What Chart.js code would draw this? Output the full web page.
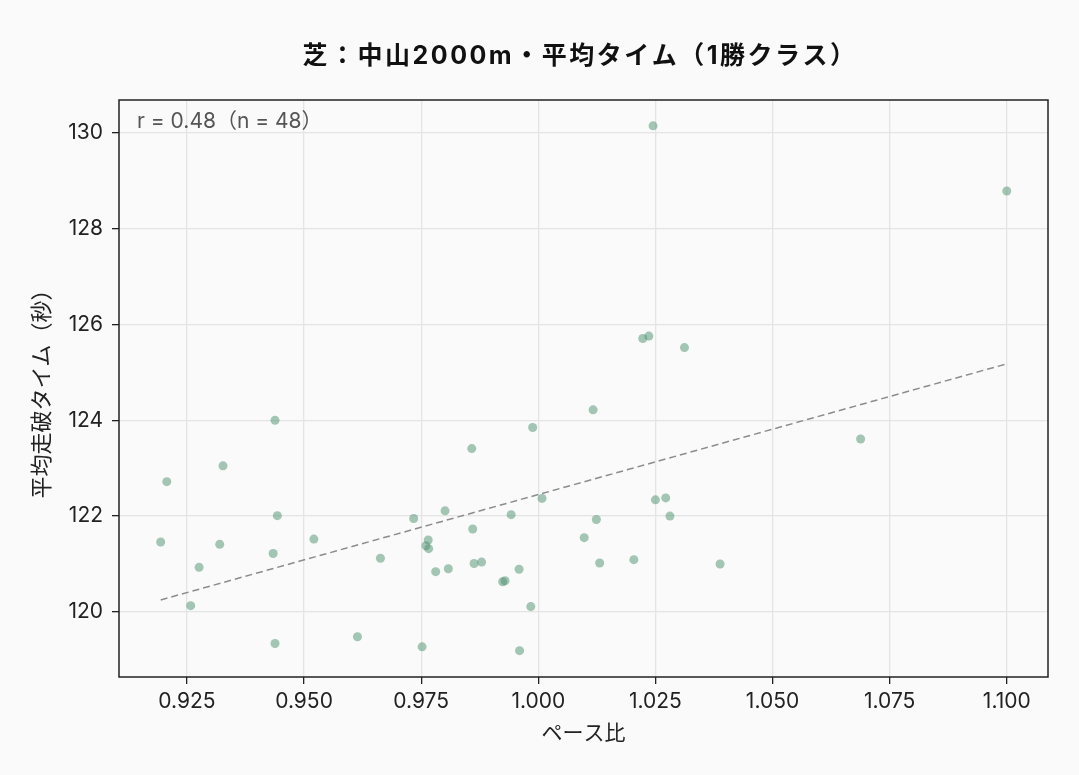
<!DOCTYPE html>
<html>
<head>
<meta charset="utf-8">
<script src="https://cdn.jsdelivr.net/npm/chart.js@4/dist/chart.umd.min.js"></script>
<style>
html,body{margin:0;padding:0;background:#fafafa;}
#wrap{width:1079px;height:775px;position:relative;}
</style>
</head>
<body>
<div id="wrap"><canvas id="c"></canvas></div>
<script>
// ---- data ----
const titleText = "芝：中山2000m・平均タイム（1勝クラス）";
const xLabel = "ペース比";
const yLabel = "平均走破タイム（秒）";
const annotationText = "r = 0.48（n = 48）";

const paceRatio = [
  0.9207, 0.9327, 0.9438, 0.9443, 0.9194, 0.9320, 0.9521, 0.9434, 0.9276, 0.9258,
  0.9438, 0.9614, 0.9988, 0.9858, 1.0008, 0.9801, 0.9734, 0.9942, 0.9860, 0.9765,
  0.9760, 0.9766, 0.9663, 0.9781, 0.9808, 0.9863, 0.9879, 0.9959, 0.9924, 0.9929,
  0.9984, 0.9752, 0.9960, 1.0223, 1.0236, 1.0312, 1.0117, 1.0250, 1.0272, 1.0281,
  1.0124, 1.0098, 1.0131, 1.0204, 1.0388, 1.0245, 1.1000, 1.0688
];
const avgTime = [
  122.72, 123.05, 124.00, 122.01, 121.46, 121.41, 121.52, 121.22, 120.93, 120.13,
  119.34, 119.48, 123.85, 123.41, 122.37, 122.11, 121.95, 122.03, 121.73, 121.50,
  121.38, 121.32, 121.12, 120.84, 120.90, 121.01, 121.04, 120.89, 120.63, 120.65,
  120.11, 119.27, 119.19, 125.71, 125.76, 125.52, 124.22, 122.34, 122.38, 122.00,
  121.93, 121.55, 121.02, 121.09, 121.00, 130.15, 128.79, 123.61
];
const trendX = [0.9194, 1.1000];
const trendY = [120.25, 125.18];

const xTicks = [0.925, 0.950, 0.975, 1.000, 1.025, 1.050, 1.075, 1.100];
const yTicks = [120, 122, 124, 126, 128, 130];
const xRange = [0.9105, 1.1088];
const yRange = [118.64, 130.69];

// ---- chart ----
const FONT = "Inter, 'Noto Sans CJK JP', sans-serif";
const points = paceRatio.map((x, i) => ({x: x, y: avgTime[i]}));
const trend = trendX.map((x, i) => ({x: x, y: trendY[i]}));

const bgPlugin = {
  id: 'bg',
  beforeDraw(chart) {
    const ctx = chart.ctx;
    ctx.save();
    ctx.fillStyle = '#fafafa';
    ctx.fillRect(0, 0, chart.width, chart.height);
    ctx.restore();
  },
  afterDraw(chart) {
    const ctx = chart.ctx;
    const a = chart.chartArea;
    ctx.save();
    ctx.strokeStyle = '#222';
    ctx.lineWidth = 1.5;
    ctx.strokeRect(a.left, a.top, a.right - a.left, a.bottom - a.top);
    ctx.fillStyle = '#111';
    ctx.font = "bold 25px " + FONT;
    ctx.textAlign = 'center';
    ctx.textBaseline = 'middle';
    try { ctx.letterSpacing = '2.5px'; } catch (e) {}
    ctx.fillText(titleText, 580, 56);
    try { ctx.letterSpacing = '0px'; } catch (e) {}
    ctx.fillStyle = '#555';
    ctx.font = "21px " + FONT;
    ctx.textAlign = 'left';
    ctx.fillText(annotationText, a.left + 18, a.top + 22);
    ctx.restore();
  }
};

new Chart(document.getElementById('c'), {
  type: 'scatter',
  data: {
    datasets: [
      {
        label: 'races',
        data: points,
        backgroundColor: 'rgba(74,144,110,0.5)',
        borderWidth: 0,
        pointRadius: 4.5,
        pointHoverRadius: 4.5,
        order: 2
      },
      {
        label: 'trend',
        data: trend,
        showLine: true,
        borderColor: '#8c8c8c',
        borderWidth: 1.5,
        borderDash: [7, 4],
        pointRadius: 0,
        fill: false,
        order: 1
      }
    ]
  },
  options: {
    responsive: true,
    maintainAspectRatio: false,
    animation: false,
    layout: {padding: {top: 100, right: 31, bottom: 0, left: 0}},
    plugins: {legend: {display: false}, title: {display: false}, tooltip: {enabled: false}},
    scales: {
      x: {
        type: 'linear',
        min: xRange[0],
        max: xRange[1],
        afterBuildTicks: s => { s.ticks = xTicks.map(v => ({value: v})); },
        afterFit: s => { s.height = 98; },
        grid: {color: '#e4e4e4', lineWidth: 1.3, tickColor: '#222', tickLength: 7, drawTicks: true},
        border: {display: false},
        ticks: {
          font: {family: FONT, size: 21},
          color: '#222',
          padding: 5,
          maxRotation: 0,
          callback: v => v.toFixed(3)
        },
        title: {display: true, text: xLabel, font: {family: FONT, size: 21}, color: '#222', padding: {top: 0, bottom: 29}}
      },
      y: {
        type: 'linear',
        min: yRange[0],
        max: yRange[1],
        afterBuildTicks: s => { s.ticks = yTicks.map(v => ({value: v})); },
        afterFit: s => { s.width = 119; },
        grid: {color: '#e4e4e4', lineWidth: 1.3, tickColor: '#222', tickLength: 7, drawTicks: true},
        border: {display: false},
        ticks: {
          font: {family: FONT, size: 21},
          color: '#222',
          padding: 9,
          callback: v => String(v)
        },
        title: {display: true, text: yLabel, font: {family: FONT, size: 22}, color: '#222', padding: {top: 29, bottom: 0}}
      }
    }
  },
  plugins: [bgPlugin]
});
</script>
</body>
</html>
